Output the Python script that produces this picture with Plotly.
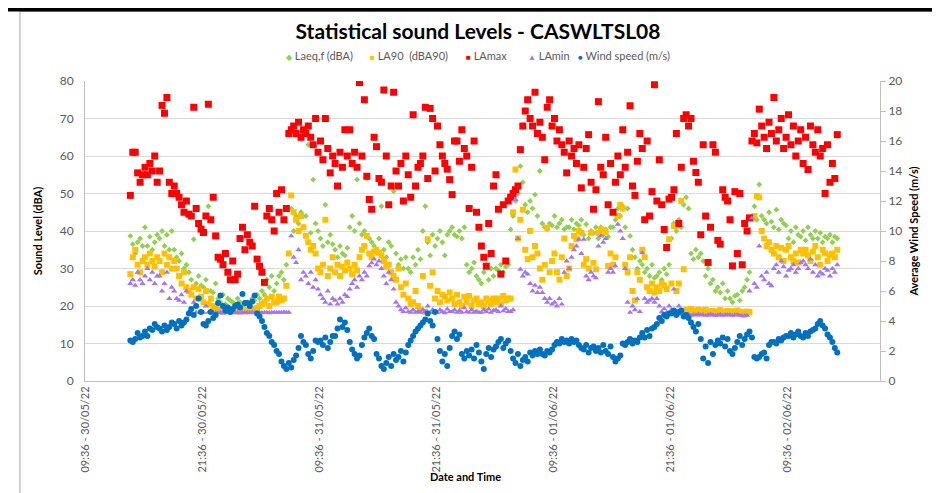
import plotly.graph_objects as go
import pandas as pd

# 15-minute records, first reading 30/05/22 14:15
times = pd.date_range("2022-05-30 14:15", periods=291, freq="15min")

laeq = [
    38.7, 36.5, 34, 37, 38, 36,
    41, 36, 38.5, 35, 37, 39,
    38, 40, 36, 39, 35, 40,
    35, 33, 32, 34, 30, 31,
    29, 27, 37.8, 26, 28, 25.5,
    25, 27, 46.6, 24, 23.6, 26,
    22, 21, 23, 20.5, 22, 21.5,
    21, 20.4, 22, 21, 20, 20.4,
    21, 20, 22, 21.5, 23, 22,
    24, 23, 27, 25, 28, 24,
    26, 28, 29, 27, 31, 34,
    46, 40, 44, 42, 45, 41,
    44, 63, 39.5, 53.7, 42, 40,
    38, 36, 47, 37, 39, 36.5,
    35, 33, 36, 34, 33.5, 35.5,
    41, 44, 40, 53.7, 42, 39,
    40, 54, 38, 37, 36, 34.5,
    38, 46.6, 35, 33, 37, 36,
    50.6, 34, 31, 32.5, 30, 33,
    30, 29, 33, 31, 35, 32.5,
    40, 46.6, 37, 33.5, 39, 36,
    38, 40, 37, 33.5, 39, 40,
    41, 39, 38.5, 40, 38, 41,
    31, 29, 30, 31.6, 28, 27,
    26, 29, 31, 27, 30, 28,
    30, 29.5, 31, 29, 30.5, 31,
    40.4, 44, 48, 50, 57.3, 53,
    47, 45, 48, 46, 49.7, 44,
    56, 42, 41, 40.5, 42, 41.5,
    44, 41, 42, 43, 40.5, 41,
    41, 43, 40.5, 42, 41.5, 43,
    39, 41.8, 38, 40, 39.5, 41,
    38, 41, 39, 40.5, 38.5, 41,
    41, 43, 46, 44, 46.6, 41,
    46, 38.7, 35, 33, 30, 32,
    31, 29, 30, 28, 31, 27.5,
    28, 29, 27, 30, 28.5, 31,
    38, 42, 40, 43, 41, 47,
    49, 46, 34, 32.5, 35, 33,
    34, 32, 28, 30, 26, 27,
    24, 25, 23.6, 26, 22, 24,
    22, 21, 22.7, 23, 21.5, 24,
    25, 27, 29, 44, 46.6, 43,
    52.4, 44, 43, 42, 45, 42.5,
    41, 45.7, 40.4, 43, 42, 41.5,
    38, 40, 37, 41, 39, 38.5,
    40, 37.5, 41, 39, 38, 40,
    38, 39.5, 37, 38.5, 38, 39,
    37, 38.5, 38,
]

la90 = [
    28.5, 33, 35, 31, 29, 32,
    33, 31, 34, 32, 30.5, 33,
    32, 29, 34, 31, 33, 30,
    32, 30, 28, 26, 29, 25,
    24, 23, 25, 22, 24.5, 22.5,
    21, 24, 20.5, 22, 20, 19.5,
    18.8, 19, 18.5, 19.2, 18.7, 19,
    18.8, 19, 18.6, 19, 18.9, 18.7,
    19, 18.8, 19.2, 19, 19.5, 20,
    20.5, 21, 22, 20, 22.5, 21,
    21, 22.5, 21.5, 22, 25.4, 34,
    49.5, 45, 43, 40, 44, 41,
    38.7, 37, 35, 36, 34, 30,
    29, 31, 43, 28, 30, 33,
    29, 31, 28, 30.5, 29.5, 31.6,
    30, 28.5, 31, 29.5, 33, 35,
    36, 38.7, 34, 33, 34.5, 35,
    34.2, 33.5, 32, 30.5, 31, 29,
    28, 27, 30, 25, 23, 26,
    22, 20.5, 21, 24, 20, 19,
    28, 18.5, 37.8, 25.4, 29, 22,
    24, 21, 23, 22.5, 21.5, 23.6,
    22, 20.5, 23, 21, 20, 22.5,
    21, 22.7, 20, 21.5, 22, 20.5,
    21, 20, 22, 21.5, 20.5, 22,
    21, 22, 20.5, 22.7, 21.5, 22,
    22, 45, 56.4, 38, 43, 45.7,
    35, 32.5, 40, 33, 36, 34,
    30, 27, 31, 40.9, 29, 32,
    34, 29, 27, 33, 38, 28,
    30, 36, 38.7, 37.8, 40, 39.5,
    31, 32.5, 30, 39.5, 31.5, 29.8,
    39.5, 40.4, 40, 39.8, 30.7, 34,
    31, 33, 44, 47, 46, 31,
    29, 33, 24, 21.5, 29, 27,
    35, 33, 25, 24, 26, 23.6,
    25, 24, 26, 25.5, 24.5, 37.8,
    26, 41.3, 24, 26, 48, 29.8,
    19, 18.5, 19.2, 18.8, 18.5, 19,
    18.5, 18.8, 19, 18.6, 18.4, 18.7,
    18.6, 18.3, 18.9, 18.5, 18.4, 18.7,
    18.4, 18.6, 18.3, 18.8, 18.5, 18.3,
    18.3, 18.5, 18.4, 43.5, 44, 49.3,
    49, 40, 38, 36, 37, 35,
    34, 36, 33, 35.5, 32, 35,
    36, 33, 32, 34, 31.6, 35,
    34, 35, 33.5, 32, 34.5, 36,
    33, 31, 35, 34, 32, 33.5,
    34, 33, 35,
]

lamax = [
    49.5, 61, 61, 55.5, 53, 55,
    57, 55, 58, 56, 60, 53,
    56, 73.5, 71.4, 75.6, 53, 50,
    52, 50, 49, 47, 45, 48,
    44.5, 44, 73, 46, 42, 40.5,
    39.6, 44, 73.8, 43, 49, 38.7,
    33, 32.5, 31, 34, 29, 27,
    32, 27, 28.5, 38, 41, 35,
    39, 37, 36, 46.6, 32.5, 30.6,
    29, 26.3, 44, 46, 43, 40,
    50, 45, 51, 43, 46, 66,
    67, 68, 66, 69, 65, 67,
    66, 68, 65, 63, 70, 61,
    64, 59, 70, 62, 55.5, 60,
    58, 52, 61, 57, 67, 60,
    67, 58, 61, 57, 79.6, 60,
    75, 54.6, 48.4, 45.8, 65, 62.5,
    54, 53, 77.6, 60, 47, 52,
    77, 56, 52, 58, 48, 60,
    55, 49, 71, 52, 57, 58,
    60, 73, 54, 72.7, 70, 56,
    68, 63, 60, 58, 56.5, 53.7,
    49.7, 64, 64, 58.6, 67, 62,
    60, 46, 57, 64, 45, 41,
    36, 33, 30.6, 42, 34, 52,
    55, 45.8, 28.5, 47, 32, 48,
    49, 50, 51, 52, 61.7, 68,
    72, 75, 70, 68, 77, 66,
    69, 65, 59, 73, 75, 68,
    70, 64, 67, 63, 61, 55.5,
    64, 60, 62, 58, 63, 51.5,
    57, 62, 65.7, 53, 45.8, 51,
    74.5, 57, 55, 65, 47, 58,
    45, 53, 60, 55, 67, 57,
    61, 73.4, 52, 49.5, 58.6, 66,
    62, 43, 64, 44, 50.5, 79,
    48, 59, 47, 40.4, 35.6, 48.5,
    49, 51, 66, 42, 57, 70,
    71, 68, 70, 58.6, 55.6, 53,
    39, 63, 44, 31.6, 41, 63,
    61, 37.5, 36.5, 51, 49, 48,
    43, 30.7, 50.5, 34, 50, 31,
    42, 40, 43.5, 64, 66, 63.5,
    72.5, 68, 65, 62, 69, 66,
    75.6, 64, 67, 70, 62, 65,
    71, 63, 68, 60, 64, 67,
    58, 65, 56.4, 68, 63, 61,
    67, 60, 62, 50, 63, 53,
    58, 54, 65.7,
]

lamin = [
    26, 27, 25.5, 29, 27, 26,
    28, 30, 27, 29, 26, 28,
    28, 24, 26, 29, 22, 25,
    24, 22, 21.5, 23, 21, 24,
    18.5, 18.3, 21, 18.3, 22, 18.3,
    18.3, 20, 18.3, 18.5, 18.3, 18.3,
    18.2, 18.3, 18.1, 18.3, 18.2, 18.3,
    18.3, 18.2, 18.3, 18.1, 18.3, 18.2,
    18.3, 18.2, 18.3, 18.3, 18.1, 18.3,
    18.2, 18.3, 18.3, 18.2, 18.3, 18.3,
    18.3, 18.3, 18.3, 18.4, 18.3, 18.3,
    38.7, 33, 31.6, 35, 27, 29,
    28, 26, 29, 25, 27, 24.5,
    23, 22, 21, 24, 20.5, 22,
    21.5, 20.5, 22, 21, 23, 22.5,
    24.5, 26, 27, 25, 28, 27,
    29, 28, 30.7, 31.5, 32.5, 31,
    32, 30, 28, 26, 29, 27,
    24.5, 21, 20, 19, 18.5, 19.5,
    18.5, 18.3, 19, 18.3, 18.6, 18.3,
    19, 18.5, 20, 18.3, 19, 18.5,
    18.3, 19, 18.5, 18.2, 19.2, 18.5,
    18.5, 19, 18.3, 18.8, 18.3, 19.5,
    18.5, 18.3, 19, 18.3, 18.6, 18.3,
    18.3, 19, 18.5, 19.2, 18.3, 18.8,
    19, 18.5, 20, 18.7, 19.3, 18.5,
    18.5, 19, 48.4, 38, 29.8, 28,
    29, 28.5, 26, 24, 25.5, 23.6,
    25, 23.6, 22, 21, 22, 20.5,
    21, 20, 22, 20.5, 29, 32,
    30, 33, 35, 36, 37.8, 34,
    37.8, 28, 27, 29, 28, 27.5,
    36, 38.7, 37, 38, 29, 30,
    29, 30.7, 41.8, 40, 38, 30,
    21, 18.3, 20, 19, 21.9, 18.5,
    34.2, 22, 21, 21.5, 22, 21,
    22, 20, 18.5, 19.3, 18.3, 20,
    19, 24.5, 18.5, 20, 17.8, 18,
    17.6, 17.8, 17.5, 17.7, 17.6, 17.8,
    17.6, 17.7, 17.5, 17.6, 17.8, 17.6,
    17.5, 17.6, 17.7, 17.5, 17.6, 17.7,
    17.6, 17.5, 17.6, 17.7, 17.5, 17.4,
    17.4, 17.5, 24, 43.5, 26, 25,
    36, 28, 27, 29, 26, 25.4,
    30, 31, 29, 32, 30.5, 28,
    29.5, 30, 31, 29, 30, 31.5,
    32, 31, 30, 32.5, 29, 31,
    28, 29, 28.5, 30, 29.5, 28,
    30, 29, 31,
]

wind = [
    2.7, 2.6, 2.8, 3.2, 2.9, 3.0,
    3.3, 3.0, 3.5, 3.4, 3.8, 3.6,
    3.5, 3.3, 3.7, 3.4, 3.6, 3.9,
    3.8, 3.5, 4.0, 3.7, 3.9, 4.1,
    4.5, 4.8, 4.4, 5.0, 5.5, 4.6,
    3.8, 3.7, 4.0, 4.6, 4.2, 4.4,
    5.2, 5.7, 5.0, 4.7, 4.9, 4.6,
    4.8, 5.0, 5.1, 4.9, 5.8, 5.2,
    5.2, 5.0, 5.3, 5.7, 4.5, 4.3,
    4.0, 3.6, 3.2, 3.0, 2.6, 2.4,
    2.0, 1.8, 1.3, 1.0, 0.8, 1.2,
    0.9, 1.4, 1.7, 2.2, 3.0, 2.6,
    2.4, 1.8, 1.5, 2.0, 2.7, 2.6,
    2.7, 2.4, 2.9, 2.2, 2.6, 3.0,
    3.0, 3.5, 4.1, 3.6, 3.9, 3.4,
    2.6, 2.1, 1.8, 1.5, 1.7, 2.4,
    2.9, 3.2, 3.5, 3.0, 2.8, 1.8,
    1.5, 1.0, 0.8, 1.2, 1.6, 1.0,
    1.8, 1.4, 1.6, 2.0, 1.3, 1.9,
    2.4, 2.7, 3.0, 3.3, 3.5, 3.7,
    3.9, 4.1, 4.5, 4.0, 3.7, 4.6,
    2.8, 2.0, 1.3, 1.8, 1.0, 2.2,
    3.0, 3.3, 2.8, 3.1, 1.8, 1.5,
    2.0, 1.7, 2.1, 1.5, 2.4, 1.9,
    1.3, 0.8, 1.8, 2.2, 1.6, 2.1,
    2.3, 2.6, 2.8, 2.2, 2.5, 2.7,
    2.0, 1.5, 1.2, 1.8, 1.0, 1.4,
    1.6, 1.3, 1.9, 1.7, 2.0, 1.8,
    2.1, 1.8, 1.7, 2.0, 1.9, 2.1,
    2.4, 2.6, 2.5, 2.8, 2.6, 2.7,
    2.5, 2.8, 2.6, 2.7, 2.4, 2.2,
    2.1, 2.4, 1.9, 2.2, 2.3, 2.0,
    2.2, 1.9, 2.4, 2.0, 1.8, 2.3,
    1.6, 1.3, 1.5, 1.7, 2.5, 2.4,
    2.6, 2.8, 2.5, 2.7, 2.6, 2.9,
    3.2, 2.9, 3.4, 3.0, 3.5, 3.6,
    3.8, 4.2, 4.0, 4.4, 4.3, 4.5,
    4.5, 4.7, 4.4, 4.6, 4.7, 4.3,
    4.4, 4.2, 3.9, 3.6, 3.3, 3.8,
    2.8, 1.5, 2.3, 1.2, 2.6, 1.8,
    2.4, 2.7, 2.5, 2.9, 2.3, 2.8,
    2.0, 1.8, 2.2, 2.6, 3.0, 2.4,
    2.8, 3.1, 3.3, 2.9, 1.6, 1.5,
    1.6, 1.8, 1.9, 1.5, 2.4, 2.6,
    2.6, 2.5, 2.8, 2.7, 2.9, 3.0,
    3.0, 3.2, 2.9, 3.1, 3.3, 3.0,
    2.9, 3.2, 3.0, 3.3, 3.4, 3.5,
    3.8, 4.0, 3.7, 3.5, 3.1, 2.9,
    2.6, 2.2, 1.9,
]

tick_times = ["2022-05-30 09:36", "2022-05-30 21:36", "2022-05-31 09:36",
              "2022-05-31 21:36", "2022-06-01 09:36", "2022-06-01 21:36",
              "2022-06-02 09:36"]
tick_labels = ["09:36 - 30/05/22", "21:36 - 30/05/22", "09:36 - 31/05/22",
               "21:36 - 31/05/22", "09:36 - 01/06/22", "21:36 - 01/06/22",
               "09:36 - 02/06/22"]

FONT = "Lato"
GREY = "#595959"
AXIS = "#BFBFBF"

# name, colour, marker symbol, size, legend glyph
series = [
    (laeq, "Laeq,f (dBA)", "#92D050", "diamond", 4.5, "◆"),
    (la90, "LA90  (dBA90)", "#FFC000", "square", 6, "■"),
    (lamax, "LAmax", "#FF0000", "square", 7, "■"),
    (lamin, "LAmin", "#A374F5", "triangle-up", 5.5, "▲"),
    (wind, "Wind speed (m/s)", "#0070C0", "circle", 6, "●"),
]

fig = go.Figure()
for vals, name, color, symbol, size, glyph in series:
    fig.add_trace(go.Scatter(
        x=times, y=vals, name=name, mode="markers",
        yaxis="y2" if name.startswith("Wind") else "y",
        marker=dict(color=color, symbol=symbol, size=size, line=dict(width=0)),
    ))

fig.update_layout(
    width=940, height=493,
    margin=dict(l=77, r=68, t=73, b=120),
    paper_bgcolor="white", plot_bgcolor="white",
    font=dict(family=FONT, color=GREY, size=11),
    title=dict(text="<b>Statistical sound Levels - CASWLTSL08</b>",
               x=0.5, xanchor="center", y=0.953, yanchor="middle",
               font=dict(family=FONT, size=21, color="black")),
    showlegend=False,
    xaxis=dict(
        type="date",
        range=["2022-05-30 09:36", "2022-06-02 19:08"],
        tickmode="array", tickvals=tick_times, ticktext=tick_labels,
        tickangle=-90, tickfont=dict(size=11, color=GREY),
        showgrid=False, showline=True, linecolor=AXIS, linewidth=1,
        ticks="", zeroline=False,
    ),
    yaxis=dict(
        range=[0, 80], dtick=10, showgrid=True, gridcolor="#D9D9D9",
        showline=True, linecolor=AXIS, zeroline=False,
        tickfont=dict(size=12, color=GREY), ticklabelstandoff=8,
        title=dict(text="<b>Sound Level (dBA)</b>", font=dict(size=11, color="black"),
                   standoff=14),
    ),
    yaxis2=dict(
        range=[0, 20], dtick=2, overlaying="y", side="right",
        showgrid=False, showline=True, linecolor=AXIS, zeroline=False,
        ticks="outside", ticklen=5, tickcolor=AXIS,
        tickfont=dict(size=12, color=GREY),
        title=dict(text="<b>Average Wind Speed (m/s)</b>", font=dict(size=11, color="black"),
                   standoff=8),
    ),
)

# legend drawn as a row of text items above the plot
legend_x = [276, 360, 456, 518, 568]
for (vals, name, color, symbol, size, glyph), px in zip(series, legend_x):
    fig.add_annotation(
        text=f"<span style='color:{color};font-size:8px'>{glyph}</span> {name}",
        xref="paper", yref="paper", x=(px - 77) / 795, y=(373 - 47) / 300,
        xanchor="left", yanchor="middle", showarrow=False,
        font=dict(family=FONT, size=11, color=GREY),
    )

fig.add_annotation(text="<b>Date and Time</b>", xref="paper", yref="paper",
                   x=0.479, y=-0.347, showarrow=False,
                   font=dict(family=FONT, size=11, color="black"))

# chart frame as in the screenshot
fig.add_shape(type="rect", xref="paper", yref="paper",
              x0=-0.0818, x1=1.0767, y0=-0.39, y1=1.232,
              line=dict(color="#A6A6A6", width=1), layer="below")
fig.add_shape(type="rect", xref="paper", yref="paper",
              x0=-0.1, x1=1.1, y0=1.232, y1=1.25,
              line=dict(width=0), fillcolor="black", layer="above")

fig.write_html("out.html")
